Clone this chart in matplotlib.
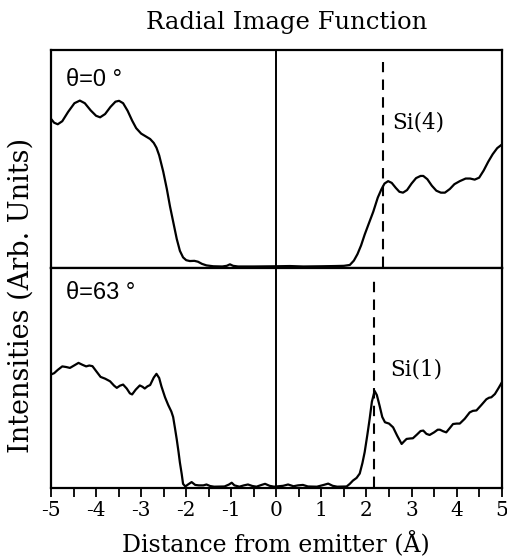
import matplotlib
matplotlib.use("Agg")
import matplotlib.pyplot as plt
import numpy as np

# ---- data ----
x_top = [-5.0, -4.93, -4.85, -4.75, -4.62, -4.48, -4.36, -4.25, -4.12, -4.00, -3.91, -3.80,
         -3.68, -3.57, -3.49, -3.40, -3.30, -3.20, -3.11, -3.00, -2.88, -2.80, -2.72, -2.66,
         -2.60, -2.51, -2.43, -2.36, -2.28, -2.21, -2.14, -2.07, -2.00, -1.92, -1.82, -1.74,
         -1.65, -1.55, -1.40, -1.20, -1.10, -1.03, -0.96, -0.85, -0.5, 0.0, 0.3, 0.6, 1.0,
         1.3, 1.5, 1.63, 1.72, 1.80, 1.88, 1.96, 2.05, 2.15, 2.25, 2.33, 2.40, 2.48, 2.56,
         2.65, 2.73, 2.81, 2.90, 3.00, 3.10, 3.20, 3.26, 3.35, 3.45, 3.55, 3.65, 3.74, 3.85,
         3.95, 4.07, 4.20, 4.30, 4.40, 4.50, 4.60, 4.70, 4.80, 4.90, 5.00]
y_top = [0.683, 0.665, 0.658, 0.672, 0.715, 0.755, 0.767, 0.755, 0.722, 0.697, 0.690, 0.705,
         0.738, 0.762, 0.766, 0.755, 0.720, 0.675, 0.640, 0.615, 0.600, 0.590, 0.572, 0.550,
         0.515, 0.440, 0.360, 0.280, 0.200, 0.130, 0.075, 0.045, 0.032, 0.028, 0.029, 0.025,
         0.015, 0.008, 0.004, 0.003, 0.006, 0.013, 0.006, 0.003, 0.003, 0.004, 0.005, 0.003,
         0.004, 0.005, 0.006, 0.010, 0.030, 0.060, 0.100, 0.150, 0.200, 0.255, 0.320, 0.358,
         0.385, 0.396, 0.388, 0.365, 0.347, 0.343, 0.355, 0.385, 0.410, 0.420, 0.420, 0.405,
         0.375, 0.352, 0.343, 0.343, 0.360, 0.382, 0.396, 0.408, 0.408, 0.403, 0.412, 0.445,
         0.485, 0.520, 0.548, 0.564]

x_bot = [-5.0, -4.93, -4.85, -4.75, -4.66, -4.58, -4.48, -4.39, -4.30, -4.22, -4.15, -4.08,
         -4.00, -3.90, -3.80, -3.69, -3.60, -3.54, -3.47, -3.40, -3.32, -3.25, -3.20, -3.12,
         -3.03, -2.97, -2.92, -2.86, -2.80, -2.72, -2.66, -2.60, -2.55, -2.47, -2.40, -2.33,
         -2.29, -2.25, -2.21, -2.17, -2.14, -2.10, -2.07, -2.02, -1.96, -1.88, -1.80, -1.72,
         -1.62, -1.55, -1.47, -1.38, -1.15, -1.05, -0.99, -0.93, -0.82, -0.72, -0.63, -0.53,
         -0.44, -0.33, -0.25, -0.15, -0.05, 0.05, 0.15, 0.26, 0.38, 0.48, 0.59, 0.70, 0.90,
         1.05, 1.15, 1.25, 1.35, 1.56, 1.63, 1.70, 1.78, 1.85, 1.91, 1.96, 2.02, 2.07, 2.12,
         2.18, 2.23, 2.29, 2.35, 2.41, 2.50, 2.59, 2.68, 2.78, 2.84, 2.89, 2.97, 3.03, 3.12,
         3.20, 3.26, 3.33, 3.40, 3.50, 3.58, 3.63, 3.70, 3.77, 3.85, 3.92, 4.00, 4.07, 4.18,
         4.29, 4.36, 4.44, 4.55, 4.66, 4.72, 4.77, 4.85, 4.93, 5.00]
y_bot = [0.514, 0.520, 0.535, 0.551, 0.548, 0.544, 0.556, 0.567, 0.558, 0.551, 0.555, 0.552,
         0.530, 0.503, 0.495, 0.483, 0.463, 0.453, 0.463, 0.468, 0.450, 0.428, 0.423, 0.445,
         0.464, 0.458, 0.450, 0.460, 0.466, 0.500, 0.517, 0.498, 0.460, 0.410, 0.375, 0.345,
         0.320, 0.270, 0.218, 0.160, 0.112, 0.060, 0.015, 0.003, 0.012, 0.023, 0.010, 0.008,
         0.008, 0.012, 0.005, 0.002, 0.003, 0.012, 0.020, 0.008, 0.002, 0.008, 0.012, 0.005,
         0.002, 0.010, 0.015, 0.006, 0.002, 0.004, 0.006, 0.012, 0.004, 0.008, 0.010, 0.003,
         0.002, 0.010, 0.016, 0.006, 0.002, 0.003, 0.015, 0.030, 0.042, 0.062, 0.110, 0.160,
         0.240, 0.311, 0.390, 0.439, 0.420, 0.372, 0.320, 0.296, 0.290, 0.273, 0.235, 0.197,
         0.210, 0.220, 0.222, 0.223, 0.240, 0.256, 0.258, 0.243, 0.238, 0.250, 0.262, 0.262,
         0.255, 0.250, 0.270, 0.288, 0.290, 0.290, 0.312, 0.341, 0.348, 0.350, 0.375, 0.401,
         0.408, 0.410, 0.425, 0.452, 0.477]

site_x = [2.37, 2.17]          # dashed marker positions (top, bottom)
site_labels = ["Si(4)", "Si(1)"]
angle_labels = ["θ=0 °", "θ=63 °"]
xticks_major = [-5, -4, -3, -2, -1, 0, 1, 2, 3, 4, 5]
xticks_minor = [-4.5, -3.5, -2.5, -1.5, -0.5, 0.5, 1.5, 2.5, 3.5, 4.5]

serif = "DejaVu Serif"
plt.rcParams["font.family"] = serif

fig = plt.figure(figsize=(5.07, 5.58), dpi=100)
L, R = 51 / 507, 501.7 / 507
y_top_px, y_mid_px, y_bot_px = 50, 268, 488
H = 558
ax_top = fig.add_axes([L, 1 - y_mid_px / H, R - L, (y_mid_px - y_top_px) / H])
ax_bot = fig.add_axes([L, 1 - y_bot_px / H, R - L, (y_bot_px - y_mid_px) / H])

for ax in (ax_top, ax_bot):
    ax.set_xlim(-5, 5)
    ax.set_ylim(-0.004, 1)
    ax.set_yticks([])
    for s in ax.spines.values():
        s.set_linewidth(1.6)
    ax.axvline(0, color="black", lw=1.4)

ax_top.plot(x_top, y_top, color="black", lw=1.6)
ax_bot.plot(x_bot, y_bot, color="black", lw=1.6)

ax_top.set_xticks([])
ax_bot.set_xticks(xticks_major)
ax_bot.set_xticklabels([str(v) for v in xticks_major], fontsize=14.5, family=serif)
ax_bot.set_xticks(xticks_minor, minor=True)
ax_bot.tick_params(axis="x", which="both", direction="out", length=6.5, width=1.3, pad=2.5)

# dashed site markers
ax_top.plot([site_x[0], site_x[0]], [0, 0.946], color="black", lw=1.5, ls=(0, (5, 3.5)))
ax_bot.plot([site_x[1], site_x[1]], [0, 0.945], color="black", lw=1.5, ls=(0, (5, 3.5)))
ax_top.text(2.58, 0.665, site_labels[0], fontsize=15.5, va="center", ha="left", family=serif)
ax_bot.text(2.52, 0.536, site_labels[1], fontsize=15.5, va="center", ha="left", family=serif)

# angle labels
ax_top.text(-4.67, 0.862, angle_labels[0], fontsize=17, va="center", ha="left", family="Liberation Sans")
ax_bot.text(-4.67, 0.886, angle_labels[1], fontsize=17, va="center", ha="left", family="Liberation Sans")

fig.text(287 / 507, 1 - 22 / H, "Radial Image Function", fontsize=17.5, ha="center", va="center", family=serif)
fig.text(21 / 507, 1 - 295 / H, "Intensities (Arb. Units)", fontsize=19.5, ha="center", va="center",
         rotation=90, family=serif)
fig.text(276 / 507, 1 - 544 / H, "Distance from emitter (Å)", fontsize=17, ha="center", va="center",
         family=serif)

fig.savefig("out.png", dpi=100)
